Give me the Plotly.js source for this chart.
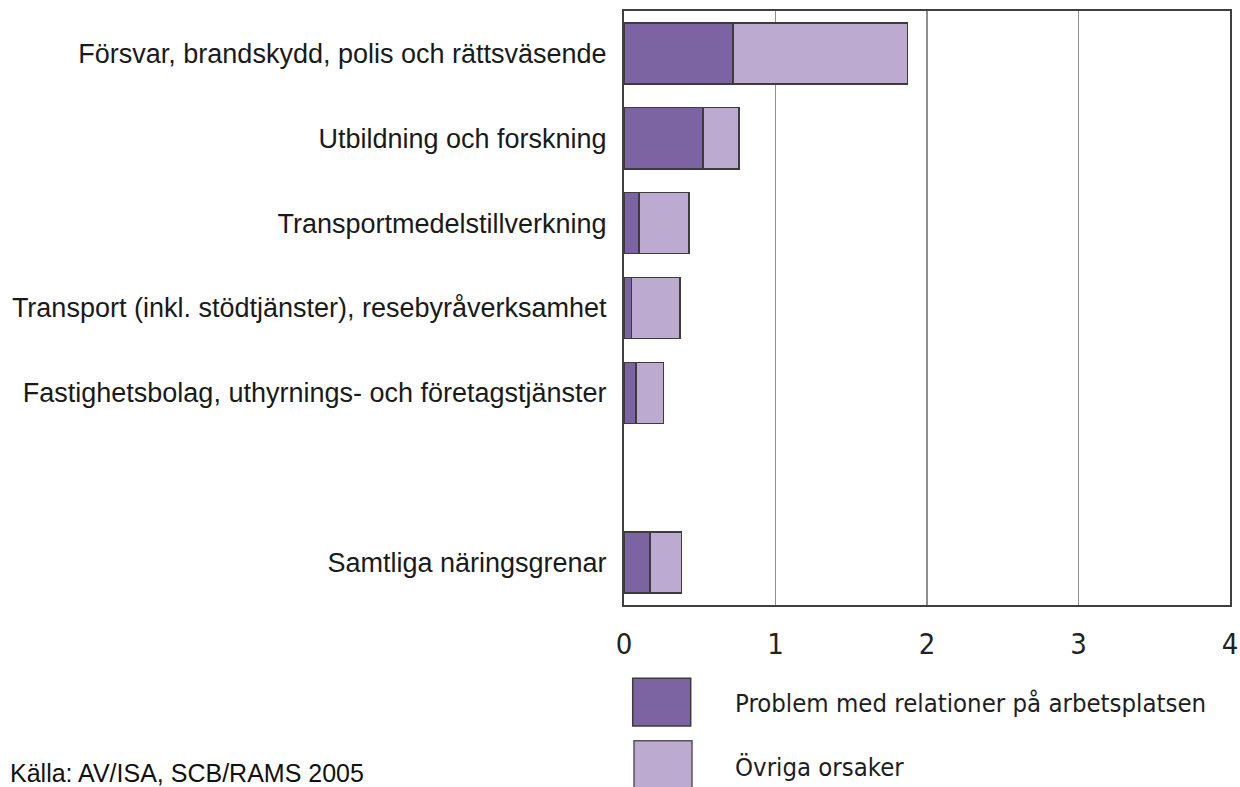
<!DOCTYPE html>
<html>
<head>
<meta charset="utf-8">
<script src="https://cdn.plot.ly/plotly-3.0.1.min.js"></script>
<style>html,body{margin:0;padding:0;background:#fff;}#chart{width:1240px;height:787px;}</style>
</head>
<body>
<div id="chart"></div>
<script>
const categories = [
  "Försvar, brandskydd, polis och rättsväsende",
  "Utbildning och forskning",
  "Transportmedelstillverkning",
  "Transport (inkl. stödtjänster), resebyråverksamhet",
  "Fastighetsbolag, uthyrnings- och företagstjänster",
  "Samtliga näringsgrenar"
];
const relationProblems = [0.72, 0.52, 0.10, 0.05, 0.08, 0.17];
const otherCauses = [1.15, 0.24, 0.33, 0.32, 0.18, 0.21];
const seriesNames = ["Problem med relationer på arbetsplatsen", "Övriga orsaker"];
const xTicks = [0, 1, 2, 3, 4];
const sourceNote = "Källa: AV/ISA, SCB/RAMS 2005";

// layout helpers
const W = 1240, H = 787;
const M = {l: 624, r: 10, t: 11, b: 182};
const PW = W - M.l - M.r, PH = H - M.t - M.b;
const px = x => (x - M.l) / PW;
const py = y => (H - M.b - y) / PH;
// one blank row before the total row
const rows = categories.map((c, i) => i < categories.length - 1 ? i : i + 1);

const colors = ["#7b64a1", "#bdaad0"];
const outline = {color: "#3c3c3c", width: 1.5};
const condensed = "Liberation Sans Narrow, DejaVu Sans Condensed";

const traces = [
  {type: "bar", orientation: "h", name: seriesNames[0], y: rows, x: relationProblems,
   marker: {color: colors[0], line: outline}, hoverinfo: "x+name"},
  {type: "bar", orientation: "h", name: seriesNames[1], y: rows, x: otherCauses,
   marker: {color: colors[1], line: outline}, hoverinfo: "x+name"}
];

const legendY = [703, 767];
const shapes = [
  {type: "rect", xref: "paper", yref: "paper", x0: px(632.7), x1: px(690.7), y0: py(726), y1: py(678.3),
   fillcolor: colors[0], line: {color: "#3c3c3c", width: 1.5}},
  {type: "rect", xref: "paper", yref: "paper", x0: px(634), x1: px(692), y0: py(800), y1: py(740.7),
   fillcolor: colors[1], line: {color: "#555", width: 1.5}}
];
const annotations = [
  {xref: "paper", yref: "paper", x: px(733), y: py(legendY[0]), xanchor: "left", yanchor: "middle",
   text: seriesNames[0], showarrow: false, font: {family: condensed, size: 25.5, color: "#1e1e1e"}},
  {xref: "paper", yref: "paper", x: px(733), y: py(legendY[1]), xanchor: "left", yanchor: "middle",
   text: seriesNames[1], showarrow: false, font: {family: condensed, size: 25.5, color: "#1e1e1e"}},
  {xref: "paper", yref: "paper", x: px(8), y: py(773), xanchor: "left", yanchor: "middle",
   text: sourceNote, showarrow: false, font: {family: "Liberation Sans, Arial", size: 25, color: "#111"}}
];

const layout = {
  width: W, height: H,
  margin: M,
  paper_bgcolor: "#fff", plot_bgcolor: "#fff",
  barmode: "stack", bargap: 0.28,
  showlegend: false,
  xaxis: {
    range: [0, 4], tickvals: xTicks, ticktext: xTicks.map(String),
    showgrid: true, gridcolor: "#8f8f8f", gridwidth: 1.8, zeroline: false,
    showline: true, mirror: true, linecolor: "#404040", linewidth: 2,
    ticks: "outside", ticklen: 12, tickcolor: "rgba(0,0,0,0)",
    tickfont: {family: condensed, size: 29, color: "#222"},
    fixedrange: true
  },
  yaxis: {
    range: [rows[rows.length - 1] + 0.5, -0.5], tickvals: rows, ticktext: categories,
    showgrid: false, zeroline: false,
    showline: true, mirror: true, linecolor: "#404040", linewidth: 2,
    ticks: "outside", ticklen: 10, tickcolor: "rgba(0,0,0,0)",
    tickfont: {family: "Liberation Sans, Arial", size: 27, color: "#1a1a1a"},
    fixedrange: true
  },
  shapes: shapes,
  annotations: annotations
};

Plotly.newPlot("chart", traces, layout, {displayModeBar: false, staticPlot: true});
</script>
</body>
</html>
